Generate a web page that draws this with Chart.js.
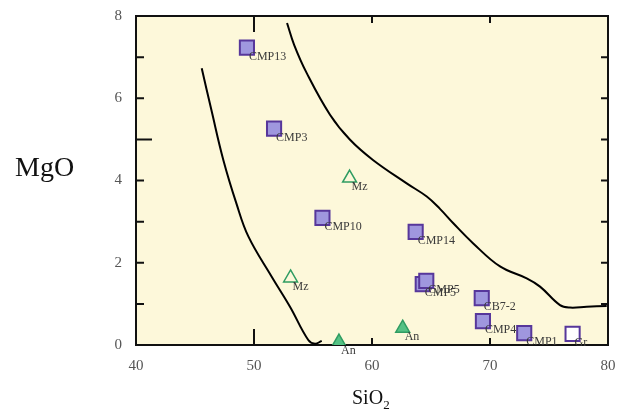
<!DOCTYPE html>
<html>
<head>
<meta charset="utf-8">
<script src="https://cdn.jsdelivr.net/npm/chart.js@4"></script>
<style>
  body { margin: 0; background: #fff; }
  #wrap { position: relative; width: 627px; height: 419px; }
  .axt { position: absolute; font-family: "Liberation Serif", serif; color: #111; line-height: 1; }
  #ytitle { left: 15px; top: 153px; font-size: 28px; }
  #xtitle { left: 352px; top: 387px; font-size: 20px; }
  #xtitle sub { font-size: 13px; }
</style>
</head>
<body>
<div id="wrap">
  <canvas id="chart"></canvas>
  <div class="axt" id="ytitle">MgO</div>
  <div class="axt" id="xtitle">SiO<sub>2</sub></div>
</div>
<script>
// samples (squares)
const sampleNames = ['CMP13', 'CMP3', 'CMP10', 'CMP14', 'CMP5', 'CMP5', 'CB7-2', 'CMP4', 'CMP1'];
const sampleSiO2 = [49.4, 51.7, 55.8, 63.7, 64.3, 64.6, 69.3, 69.4, 72.9];
const sampleMgO = [7.23, 5.26, 3.09, 2.75, 1.48, 1.56, 1.14, 0.58, 0.29];

// granite (open square)
const grNames = ['Gr'];
const grSiO2 = [77.0];
const grMgO = [0.27];

// Mz (open triangles)
const mzNames = ['Mz', 'Mz'];
const mzSiO2 = [58.1, 53.1];
const mzMgO = [4.06, 1.63];

// An (filled triangles)
const anNames = ['An', 'An'];
const anSiO2 = [57.2, 62.6];
const anMgO = [0.07, 0.41];

// boundary curves
const leftCurveSiO2 = [45.57, 46.4, 47.4, 48.5, 49.52, 51.5, 53.05, 54.6, 55.17, 55.74];
const leftCurveMgO = [6.73, 5.7, 4.5, 3.45, 2.64, 1.66, 0.93, 0.12, 0.03, 0.10];
const rightCurveSiO2 = [52.8, 53.4, 54.47, 56.44, 58.14, 60.08, 62.94, 64.64, 65.76, 66.89, 68.58, 70.85, 73.11, 74.24, 75.93, 76.78, 78.19, 79.89];
const rightCurveMgO = [7.83, 7.3, 6.61, 5.6, 4.99, 4.5, 3.93, 3.61, 3.31, 2.96, 2.47, 1.91, 1.62, 1.42, 0.97, 0.91, 0.93, 0.95];

const xTicks = [40, 50, 60, 70, 80];
const yTicks = [0, 2, 4, 6, 8];

function pts(xs, ys) { return xs.map((x, i) => ({ x: x, y: ys[i] })); }

const plotBg = {
  id: 'plotBg',
  beforeDraw(chart) {
    const { ctx, chartArea: a } = chart;
    ctx.save();
    ctx.fillStyle = '#fdf8da';
    ctx.fillRect(a.left, a.top, a.right - a.left, a.bottom - a.top);
    ctx.restore();
  },
  beforeDatasetsDraw(chart) {
    const { ctx, chartArea: a, scales } = chart;
    ctx.save();
    ctx.strokeStyle = '#111';
    ctx.lineWidth = 2;
    ctx.strokeRect(a.left, a.top, a.right - a.left, a.bottom - a.top);
    ctx.beginPath();
    for (let v = 1; v < 8; v++) {
      const y = scales.y.getPixelForValue(v);
      const len = v === 5 ? 16 : 8;
      ctx.moveTo(a.left, y); ctx.lineTo(a.left + len, y);
      ctx.moveTo(a.right, y); ctx.lineTo(a.right - 7, y);
    }
    for (let v = 50; v < 80; v += 10) {
      const x = scales.x.getPixelForValue(v);
      const len = v === 50 ? 16 : 7;
      ctx.moveTo(x, a.bottom); ctx.lineTo(x, a.bottom - len);
      ctx.moveTo(x, a.top); ctx.lineTo(x, a.top + len);
    }
    ctx.stroke();
    ctx.restore();
  },
  afterDatasetsDraw(chart) {
    const { ctx } = chart;
    ctx.save();
    ctx.font = '12px "Liberation Serif", serif';
    ctx.fillStyle = '#3a3a3a';
    ctx.textBaseline = 'middle';
    chart.data.datasets.forEach((ds, i) => {
      if (!ds.names) return;
      const meta = chart.getDatasetMeta(i);
      meta.data.forEach((el, j) => {
        ctx.fillText(ds.names[j], el.x + 2, el.y + 9);
      });
    });
    ctx.restore();
  }
};

new Chart(document.getElementById('chart'), {
  type: 'scatter',
  data: {
    datasets: [
      {
        data: pts(leftCurveSiO2, leftCurveMgO), showLine: true, borderColor: '#000',
        borderWidth: 2, pointRadius: 0, tension: 0.4, fill: false
      },
      {
        data: pts(rightCurveSiO2, rightCurveMgO), showLine: true, borderColor: '#000',
        borderWidth: 2, pointRadius: 0, tension: 0.4, fill: false
      },
      {
        data: pts(sampleSiO2, sampleMgO), names: sampleNames, pointStyle: 'rect',
        pointRadius: 10, borderWidth: 2, borderColor: '#57379b', backgroundColor: '#9f97de'
      },
      {
        data: pts(grSiO2, grMgO), names: grNames, pointStyle: 'rect',
        pointRadius: 10, borderWidth: 2, borderColor: '#57379b', backgroundColor: '#ffffff'
      },
      {
        data: pts(mzSiO2, mzMgO), names: mzNames, pointStyle: 'triangle',
        pointRadius: 8, borderWidth: 1.5, borderColor: '#2f9c62', backgroundColor: '#fdf8da'
      },
      {
        data: pts(anSiO2, anMgO), names: anNames, pointStyle: 'triangle',
        pointRadius: 8, borderWidth: 1.5, borderColor: '#2f9c62', backgroundColor: '#55c184'
      }
    ]
  },
  options: {
    responsive: true,
    maintainAspectRatio: false,
    animation: false,
    layout: { padding: { top: 16, right: 19, left: 0, bottom: 0 } },
    plugins: { legend: { display: false }, tooltip: { enabled: false } },
    scales: {
      x: {
        type: 'linear', min: 40, max: 80,
        afterFit(s) { s.height = 74; s.paddingLeft = 0; s.paddingRight = 0; },
        afterBuildTicks(s) { s.ticks = xTicks.map(v => ({ value: v })); },
        grid: { display: false, drawTicks: false },
        border: { display: false },
        ticks: { padding: 12, color: '#555', font: { family: '"Liberation Serif", serif', size: 15 } }
      },
      y: {
        type: 'linear', min: 0, max: 8,
        afterFit(s) { s.width = 136; s.paddingTop = 0; s.paddingBottom = 0; },
        afterBuildTicks(s) { s.ticks = yTicks.map(v => ({ value: v })); },
        grid: { display: false, drawTicks: false },
        border: { display: false },
        ticks: { padding: 14, color: '#555', font: { family: '"Liberation Serif", serif', size: 15 } }
      }
    }
  },
  plugins: [plotBg]
});
</script>
</body>
</html>
